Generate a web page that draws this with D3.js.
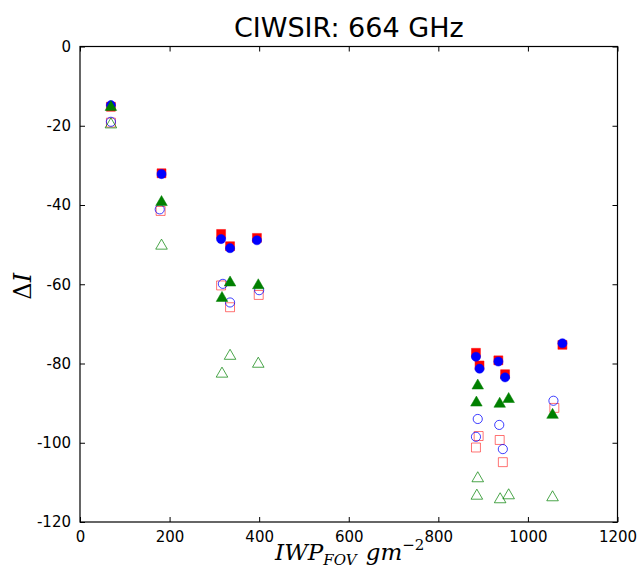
<!DOCTYPE html>
<html>
<head>
<meta charset="utf-8">
<script src="https://cdn.jsdelivr.net/npm/d3@7"></script>
<style>
html,body{margin:0;padding:0;background:#fff;}
svg{display:block;}
</style>
</head>
<body>
<svg id="chart" width="639" height="570"></svg>
<script>
// ---- data ----
const xTicks = [0, 200, 400, 600, 800, 1000, 1200];
const yTicks = [0, -20, -40, -60, -80, -100, -120];

const filledSquareX = [69, 182, 315, 335, 395, 884, 892, 934, 949, 1077];
const filledSquareY = [-15.2, -32.0, -47.3, -50.4, -48.3, -77.3, -80.5, -79.2, -82.7, -75.3];

const filledCircleX = [69, 182, 315, 335, 395, 884, 892, 934, 949, 1077];
const filledCircleY = [-14.8, -32.2, -48.6, -50.9, -48.9, -78.3, -81.3, -79.5, -83.5, -74.9];

const filledTriangleX = [69, 182, 317, 335, 398, 888, 885, 937, 957, 1055];
const filledTriangleY = [-15.3, -39.3, -63.5, -59.6, -60.3, -85.6, -89.9, -90.2, -89.0, -93.0];

const openSquareX = [69, 180, 315, 335, 399, 890, 884, 937, 944, 1059];
const openSquareY = [-19.2, -41.5, -60.3, -65.8, -62.7, -98.3, -101.2, -99.3, -104.9, -91.2];

const openCircleX = [69, 178, 319, 335, 400, 888, 884, 936, 944, 1057];
const openCircleY = [-19.0, -41.1, -59.9, -64.6, -61.5, -94.0, -98.5, -95.5, -101.6, -89.4];

const openTriangleX = [69, 182, 317, 335, 398, 888, 886, 938, 957, 1055];
const openTriangleY = [-19.7, -50.3, -82.6, -78.1, -80.1, -109.0, -113.4, -114.3, -113.3, -113.8];

// ---- layout ----
const svg = d3.select("#chart");
const L = 80, R = 617.5, T = 46.5, B = 522;
const x = d3.scaleLinear().domain([0, 1200]).range([L, R]);
const y = d3.scaleLinear().domain([-120, 0]).range([B, T]);

const zip = (xs, ys) => xs.map((v, i) => [v, ys[i]]);

const series = [
  {data: zip(filledSquareX, filledSquareY), type: d3.symbolSquare, size: 80, fill: "#ff0000", stroke: "#ff0000", sw: 0.5, op: 1},
  {data: zip(filledCircleX, filledCircleY), type: d3.symbolCircle, size: 66, fill: "#0000ff", stroke: "#0000ff", sw: 0.5, op: 1},
  {data: zip(openSquareX, openSquareY), type: d3.symbolSquare, size: 80, fill: "none", stroke: "#ff0000", sw: 1, op: 0.55},
  {data: zip(openCircleX, openCircleY), type: d3.symbolCircle, size: 66, fill: "none", stroke: "#0000ff", sw: 1, op: 0.75},
  {data: zip(filledTriangleX, filledTriangleY), type: d3.symbolTriangle, size: 58, fill: "#008000", stroke: "#008000", sw: 0.5, op: 1},
  {data: zip(openTriangleX, openTriangleY), type: d3.symbolTriangle, size: 58, fill: "none", stroke: "#008000", sw: 1, op: 0.7}
];

// markers (clipped to axes)
svg.append("clipPath").attr("id", "clip").append("rect")
  .attr("x", L).attr("y", T).attr("width", R - L).attr("height", B - T);
const gm = svg.append("g").attr("clip-path", "url(#clip)");
series.forEach(s => {
  const sym = d3.symbol().type(s.type).size(s.size);
  gm.append("g").selectAll("path").data(s.data).join("path")
    .attr("d", sym)
    .attr("transform", d => `translate(${x(d[0])},${y(d[1])})`)
    .attr("fill", s.fill)
    .attr("stroke", s.stroke)
    .attr("stroke-width", s.sw)
    .attr("stroke-opacity", s.op)
    .attr("fill-opacity", s.fill === "none" ? 0 : 1);
});

// axes
const tickFont = "'DejaVu Sans', sans-serif";
const axB = d3.axisBottom(x).tickValues(xTicks).tickSize(-5).tickPadding(9).tickFormat(d3.format("d"));
const axT = d3.axisTop(x).tickValues(xTicks).tickSize(-5).tickFormat("");
const axLft = d3.axisLeft(y).tickValues(yTicks).tickSize(-5).tickPadding(9).tickFormat(d => String(d).replace("\u2212", "-"));
const axRgt = d3.axisRight(y).tickValues(yTicks).tickSize(-5).tickFormat("");

function style(g) {
  g.selectAll(".domain").attr("stroke", "#000").attr("stroke-width", 1.2);
  g.selectAll(".tick line").attr("stroke", "#000").attr("stroke-width", 1);
  g.selectAll(".tick text").attr("fill", "#000").style("font-family", tickFont).style("font-size", "15px");
}
svg.append("g").attr("transform", `translate(0,${B})`).call(axB).call(style);
svg.append("g").attr("transform", `translate(0,${T})`).call(axT).call(style);
svg.append("g").attr("transform", `translate(${L},0)`).call(axLft).call(style);
svg.append("g").attr("transform", `translate(${R},0)`).call(axRgt).call(style);
svg.selectAll(".domain").attr("d", null);
svg.append("rect").attr("x", L).attr("y", T).attr("width", R - L).attr("height", B - T)
  .attr("fill", "none").attr("stroke", "#000").attr("stroke-width", 1.2);

// title
svg.append("text")
  .attr("x", (L + R) / 2).attr("y", 37)
  .attr("text-anchor", "middle")
  .style("font-family", tickFont).style("font-size", "27px")
  .text("CIWSIR: 664 GHz");

// x label
const serif = "'DejaVu Serif', 'Liberation Serif', serif";
const xl = svg.append("text")
  .attr("x", (L + R) / 2 + 1).attr("y", 560)
  .attr("text-anchor", "middle")
  .style("font-family", serif).style("font-size", "23px").style("font-style", "italic");
xl.append("tspan").text("IWP");
xl.append("tspan").attr("dy", 5).style("font-size", "15px").text("FOV");
xl.append("tspan").attr("dy", -5).text("\u2009\u2009gm");
xl.append("tspan").attr("dy", -10).style("font-size", "15px").style("font-style", "normal").text("\u22122");

// y label
const yl = svg.append("text")
  .attr("transform", `translate(31,${(T + B) / 2 + 2}) rotate(-90)`)
  .attr("text-anchor", "middle")
  .style("font-family", serif).style("font-size", "24px");
yl.append("tspan").text("\u0394");
yl.append("tspan").style("font-style", "italic").text("I");
</script>
</body>
</html>
